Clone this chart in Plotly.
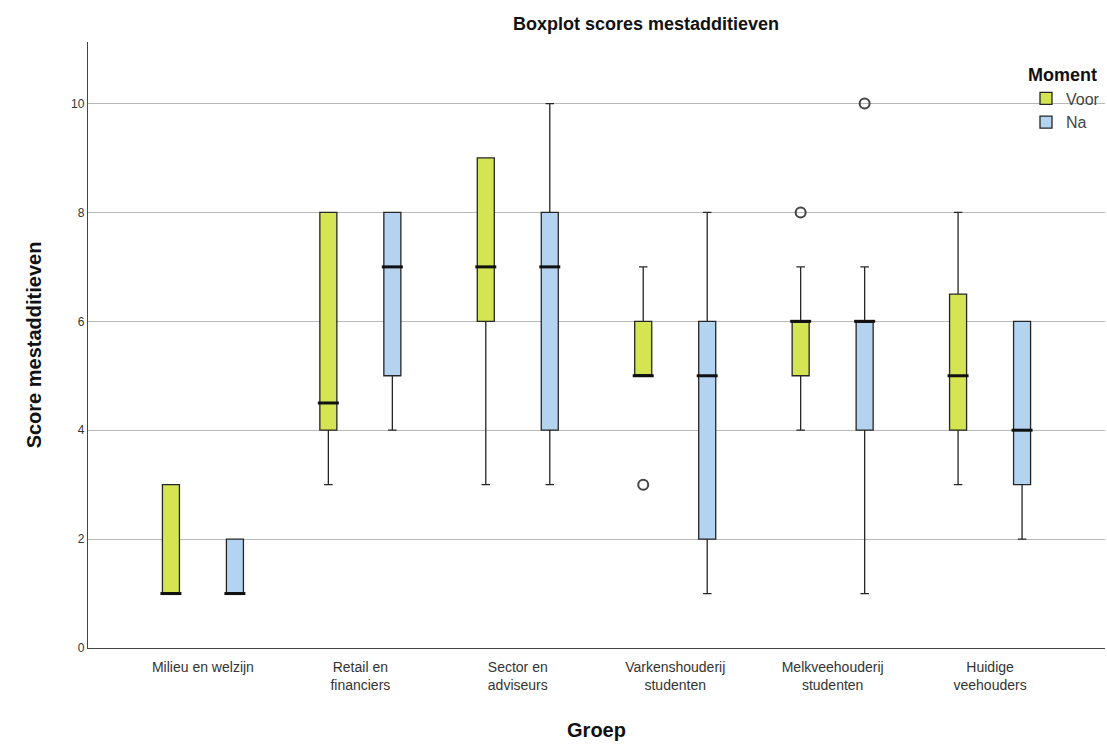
import plotly.graph_objects as go

# Groups on the x axis
groepen = [
    "Milieu en welzijn",
    "Retail en<br>financiers",
    "Sector en<br>adviseurs",
    "Varkenshouderij<br>studenten",
    "Melkveehouderij<br>studenten",
    "Huidige<br>veehouders",
]

# Box statistics per group, moment "Voor"
voor_q1 = [1, 4, 6, 5, 5, 4]
voor_median = [1, 4.5, 7, 5, 6, 5]
voor_q3 = [3, 8, 9, 6, 6, 6.5]
voor_low = [1, 3, 3, 5, 4, 3]
voor_high = [3, 8, 9, 7, 7, 8]

# Box statistics per group, moment "Na"
na_q1 = [1, 5, 4, 2, 4, 3]
na_median = [1, 7, 7, 5, 6, 4]
na_q3 = [2, 8, 8, 6, 6, 6]
na_low = [1, 4, 3, 1, 1, 2]
na_high = [2, 8, 10, 8, 7, 6]

# Outliers
voor_out_groep = ["Varkenshouderij<br>studenten", "Melkveehouderij<br>studenten"]
voor_out_waarde = [3, 8]
na_out_groep = ["Melkveehouderij<br>studenten"]
na_out_waarde = [10]

y_ticks = [0, 2, 4, 6, 8, 10]

KLEUR_VOOR = "#d5e452"
KLEUR_NA = "#b3d3f1"
LIJN = "#262626"
FONT = "Liberation Sans, Arial, sans-serif"
BOXGAP = 0.187

fig = go.Figure()

for naam, kleur, q1, med, q3, lo, hi in [
    ("Voor", KLEUR_VOOR, voor_q1, voor_median, voor_q3, voor_low, voor_high),
    ("Na", KLEUR_NA, na_q1, na_median, na_q3, na_low, na_high),
]:
    fig.add_trace(go.Box(
        name=naam,
        x=groepen,
        q1=q1, median=med, q3=q3,
        lowerfence=lo, upperfence=hi,
        fillcolor=kleur,
        line=dict(color=LIJN, width=1.3),
        whiskerwidth=0.5,
        boxpoints=False,
        offsetgroup=naam,
        alignmentgroup="m",
    ))

# Thicker median bars drawn on top of the boxes
for naam, med in [("Voor", voor_median), ("Na", na_median)]:
    fig.add_trace(go.Scatter(
        x=groepen, y=med, mode="markers",
        marker=dict(symbol="line-ew-open", size=15, color="#111111",
                    line=dict(color="#111111", width=3)),
        offsetgroup=naam, alignmentgroup="m",
        showlegend=False, hoverinfo="skip",
    ))

# Outlier circles
for naam, xs, ys in [("Voor", voor_out_groep, voor_out_waarde),
                     ("Na", na_out_groep, na_out_waarde)]:
    fig.add_trace(go.Scatter(
        x=xs, y=ys, mode="markers",
        marker=dict(symbol="circle-open", size=10, color="#444444",
                    line=dict(color="#444444", width=2)),
        offsetgroup=naam, alignmentgroup="m",
        showlegend=False, hoverinfo="skip",
    ))

fig.update_layout(
    width=1107, height=751,
    margin=dict(l=88, r=2, t=42, b=103),
    paper_bgcolor="white", plot_bgcolor="white",
    boxmode="group", boxgap=BOXGAP, boxgroupgap=0.734,
    scattermode="group", scattergap=BOXGAP,
    font=dict(family=FONT, color="#222222"),
    title=dict(
        text="<b>Boxplot scores mestadditieven</b>",
        x=646 / 1107, xanchor="center",
        y=1 - 24 / 751, yanchor="middle",
        font=dict(size=18, color="#111111"),
    ),
    legend=dict(
        title=dict(text="<b>Moment</b>", font=dict(size=18, color="#111111")),
        x=1.0, xanchor="right", y=1 - 16 / 606, yanchor="top",
        font=dict(size=16, color="#444444"),
        bgcolor="rgba(0,0,0,0)",
        tracegroupgap=0, itemwidth=30,
    ),
    xaxis=dict(
        type="category",
        categoryorder="array", categoryarray=groepen,
        range=[-0.73, 5.73],
        showline=True, linecolor="#444444", linewidth=1.3,
        showgrid=False, zeroline=False, ticks="",
        ticklabelstandoff=6,
        tickfont=dict(size=14, color="#333333"),
        title=dict(text="<b>Groep</b>", font=dict(size=20, color="#111111"),
                   standoff=30),
    ),
    yaxis=dict(
        range=[0, 11.13],
        tickvals=y_ticks,
        showline=True, linecolor="#444444", linewidth=1.3,
        showgrid=True, gridcolor="#b9b9b9", gridwidth=1,
        zeroline=False, ticks="",
        tickfont=dict(size=12, color="#333333"),
        title=dict(text="<b>Score mestadditieven</b>",
                   font=dict(size=20, color="#111111"), standoff=24),
    ),
)

fig.write_html("out.html")
